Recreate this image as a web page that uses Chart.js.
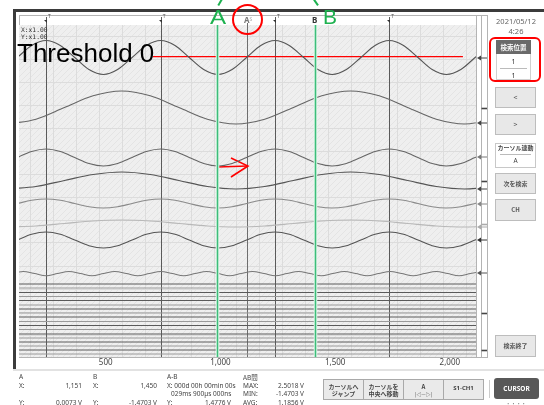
<!DOCTYPE html>
<html>
<head>
<meta charset="utf-8">
<script src="https://cdn.jsdelivr.net/npm/chart.js@4.4.1/dist/chart.umd.min.js"></script>
<style>
body{margin:0;width:544px;height:405px;overflow:hidden;background:#fff;position:relative;font-family:"Noto Sans","Noto Sans CJK JP",sans-serif;color:#444}
div{position:absolute;box-sizing:border-box}
.t{font-size:6.5px;line-height:8px;white-space:nowrap}
.r{text-align:right}
.btn{background:#e8e8e8;border:1px solid #bdbdbd;font-size:7px;font-weight:bold;color:#555;text-align:center;font-family:"Noto Sans CJK JP",sans-serif}
.cell{top:379px;height:21px;width:41px;background:#eaeaea;border:1px solid #a9a9a9;font-size:6px;line-height:7.5px;font-weight:bold;color:#444;text-align:center;padding-top:2.5px;font-family:"Noto Sans CJK JP",sans-serif}
.tg{top:13px;font-size:5px;line-height:6px;color:#555}
canvas{position:absolute;left:0;top:0}
</style>
</head>
<body>
<div style="left:13px;top:9px;width:531px;height:3px;background:#3b3b3b"></div>
<div style="left:13px;top:9px;width:3px;height:360px;background:#3b3b3b"></div>
<div style="left:19px;top:15px;width:469px;height:343px;border:1px solid #b4b4b4;background:#fff"></div>
<div style="left:476px;top:15px;width:1px;height:343px;background:#b4b4b4"></div>
<div style="left:481px;top:15px;width:1px;height:343px;background:#b4b4b4"></div>

<canvas id="scope" width="544" height="405"></canvas>

<div style="left:21px;top:27px;font-family:'DejaVu Sans Mono',monospace;font-size:6.3px;line-height:6.5px;color:#333">X:x1.00<br>Y:x1.00</div>

<!-- right panel -->
<div class="t" style="left:490px;width:52px;top:17px;text-align:center;font-size:7.5px;color:#666">2021/05/12</div>
<div class="t" style="left:490px;width:52px;top:27px;text-align:center;font-size:7.5px;color:#666">4:26</div>
<div style="left:496px;top:40px;width:35px;height:14px;background:#6a6a6a;color:#fff;font-size:6.5px;font-weight:bold;text-align:center;line-height:14px;font-family:'Noto Sans CJK JP'">検索位置</div>
<div style="left:496px;top:54px;width:35px;height:26px;background:#fff;border:1px solid #d0d0d0;border-top:none"></div>
<div style="left:500px;top:68px;width:27px;height:1px;background:#bbb"></div>
<div class="t" style="left:496px;width:35px;top:58px;text-align:center;font-size:7px;color:#333">1</div>
<div class="t" style="left:496px;width:35px;top:72px;text-align:center;font-size:7px;color:#333">1</div>
<div style="left:489px;top:37px;width:52px;height:45px;border:2px solid #f00;border-radius:6px"></div>

<div class="btn" style="left:495px;top:87px;width:41px;height:21px;line-height:19px;font-weight:normal">&lt;</div>
<div class="btn" style="left:495px;top:114px;width:41px;height:21px;line-height:19px;font-weight:normal">&gt;</div>
<div style="left:495px;top:143px;width:41px;height:25px;background:#fff;border:1px solid #c8c8c8"></div>
<div class="t" style="left:495px;width:41px;top:144px;text-align:center;font-size:6px;font-weight:bold;color:#444;font-family:'Noto Sans CJK JP'">カーソル連動</div>
<div style="left:500px;top:154px;width:31px;height:1px;background:#bbb"></div>
<div class="t" style="left:495px;width:41px;top:157px;text-align:center;font-size:6.5px;color:#444">A</div>
<div class="btn" style="left:495px;top:173px;width:41px;height:21px;line-height:19px;font-size:6px">次を検索</div>
<div class="btn" style="left:495px;top:199px;width:41px;height:22px;line-height:20px;font-size:6px">CH</div>
<div class="btn" style="left:495px;top:335px;width:41px;height:22px;line-height:20px;font-size:6px">検索終了</div>

<!-- bottom panel -->
<div style="left:13px;top:369px;width:531px;height:2px;background:#e2e2e2"></div>
<div class="t" style="left:19px;top:373px">A</div>
<div class="t" style="left:19px;top:382px">X:</div>
<div class="t r" style="left:40px;width:42px;top:382px">1,151</div>
<div class="t" style="left:19px;top:399px">Y:</div>
<div class="t r" style="left:30px;width:52px;top:399px">0.0073 V</div>
<div class="t" style="left:93px;top:373px">B</div>
<div class="t" style="left:93px;top:382px">X:</div>
<div class="t r" style="left:115px;width:42px;top:382px">1,450</div>
<div class="t" style="left:93px;top:399px">Y:</div>
<div class="t r" style="left:105px;width:52px;top:399px">-1.4703 V</div>
<div class="t" style="left:167px;top:373px">A-B</div>
<div class="t" style="left:167px;top:382px">X: 000d 00h 00min 00s</div>
<div class="t r" style="left:171px;width:60px;top:390px">029ms 900µs 000ns</div>
<div class="t" style="left:167px;top:399px">Y:</div>
<div class="t r" style="left:179px;width:52px;top:399px">1.4776 V</div>
<div class="t" style="left:243px;top:373px;font-family:'Noto Sans CJK JP'">AB間</div>
<div class="t" style="left:243px;top:382px">MAX:</div>
<div class="t" style="left:243px;top:390px">MIN:</div>
<div class="t" style="left:243px;top:399px">AVG:</div>
<div class="t r" style="left:252px;width:52px;top:382px">2.5018 V</div>
<div class="t r" style="left:252px;width:52px;top:390px">-1.4703 V</div>
<div class="t r" style="left:252px;width:52px;top:399px">1.1856 V</div>

<div class="cell" style="left:323px">カーソルへ<br>ジャンプ</div>
<div class="cell" style="left:363px">カーソルを<br>中央へ移動</div>
<div class="cell" style="left:403px">A<br><span style="font-weight:normal;font-size:5px">|◁—▷|</span></div>
<div class="cell" style="left:443px;line-height:15px;padding-top:1px;font-family:'Noto Sans'">S1-CH1</div>
<div style="left:489px;top:380px;width:1px;height:18px;background:#ccc"></div>
<div style="left:494px;top:378px;width:45px;height:21px;background:#585858;border-radius:3px;color:#fff;font-size:6.5px;font-weight:bold;text-align:center;line-height:21px">CURSOR</div>
<div class="t" style="left:494px;width:45px;top:400px;text-align:center;font-size:5px;color:#888;letter-spacing:1px">• • • •</div>

<!-- annotations -->
<div style="left:17px;top:40px;font-family:'Liberation Sans',Arial,sans-serif;font-size:26px;line-height:26px;color:#000;white-space:nowrap">Threshold 0</div>
<div style="left:210px;top:6px;font-family:'Liberation Sans',Arial,sans-serif;font-size:21px;line-height:21px;color:#1db14f;transform:scaleX(1.15);transform-origin:left top">A</div>
<div style="left:323px;top:6px;font-family:'Liberation Sans',Arial,sans-serif;font-size:21px;line-height:21px;color:#1db14f">B</div>
<div style="left:232px;top:4px;width:31px;height:31px;border:2px solid #f00;border-radius:50%"></div>
<div style="left:219px;top:-1px;width:2px;height:7px;background:#1db14f;transform:rotate(30deg)"></div>
<div style="left:315px;top:-1px;width:2px;height:7px;background:#1db14f;transform:rotate(-35deg)"></div>

<script>
// x-axis tick labels and grid
const xTickValues = [500, 1000, 1500, 2000];
const gridX = [172, 272, 372, 472, 572, 672, 772, 872, 972, 1072, 1172, 1272, 1372, 1472, 1572, 1672, 1772, 1872, 1972, 2072];
const gridY = [2.2, 4.5, 6.8, 9.1, 11.4, 13.7, 16.0, 18.3, 20.6, 22.9, 25.2, 27.5, 29.8, 32.1];

// sample positions
const fastX = [115, 177, 240, 302, 365, 427, 490, 552, 615, 677, 740, 802, 864, 927, 989, 1051, 1114,
  1176, 1238, 1300, 1363, 1425, 1487, 1549, 1612, 1674, 1736, 1798, 1861, 1923, 1985, 2048, 2110, 2172];
const slowX = [71, 196, 320, 445, 570, 694, 819, 943, 1068, 1193, 1318, 1442, 1567, 1692, 1816, 1941, 2065, 2190];
const rippleX = [90, 140, 190, 240, 290, 340, 390, 440, 490, 540, 590, 640, 690, 740, 790, 840, 890, 940, 990, 1040,
  1090, 1140, 1190, 1240, 1290, 1340, 1390, 1440, 1490, 1540, 1590, 1640, 1690, 1740, 1790, 1840, 1890, 1940, 1990,
  2040, 2090, 2140];

// analog channels
const ch1 = [29.95, 31.15, 31.65, 31.15, 29.95, 28.75, 28.25, 28.75, 29.95, 31.15, 31.65, 31.15, 29.95, 28.75, 28.25, 28.75,
  29.95, 31.15, 31.65, 31.15, 29.95, 28.75, 28.25, 28.75, 29.95, 31.15, 31.65, 31.15, 29.95, 28.75, 28.25, 28.75, 29.95, 31.15];
const ch2 = [23.3, 23.78, 24.95, 26.12, 26.6, 26.12, 24.95, 23.78, 23.3, 23.78, 24.95, 26.12, 26.6, 26.12, 24.95, 23.78, 23.3, 23.78];
const ch3 = [19.95, 20.55, 20.8, 20.55, 19.95, 19.35, 19.1, 19.35, 19.95, 20.55, 20.8, 20.55, 19.95, 19.35, 19.1, 19.35,
  19.95, 20.55, 20.8, 20.55, 19.95, 19.35, 19.1, 19.35, 19.95, 20.55, 20.8, 20.55, 19.95, 19.35, 19.1, 19.35, 19.95, 20.55];
const ch4 = [16.8, 17.05, 17.65, 18.25, 18.5, 18.25, 17.65, 17.05, 16.8, 17.05, 17.65, 18.25, 18.5, 18.25, 17.65, 17.05, 16.8, 17.05];
const ch5 = [15.35, 15.67, 15.8, 15.67, 15.35, 15.03, 14.9, 15.03, 15.35, 15.67, 15.8, 15.67, 15.35, 15.03, 14.9, 15.03,
  15.35, 15.67, 15.8, 15.67, 15.35, 15.03, 14.9, 15.03, 15.35, 15.67, 15.8, 15.67, 15.35, 15.03, 14.9, 15.03, 15.35, 15.67];
const ch6 = [13.0, 13.1, 13.35, 13.6, 13.7, 13.6, 13.35, 13.1, 13.0, 13.1, 13.35, 13.6, 13.7, 13.6, 13.35, 13.1, 13.0, 13.1];
const ch7 = [11.7, 12.27, 12.5, 12.27, 11.7, 11.13, 10.9, 11.13, 11.7, 12.27, 12.5, 12.27, 11.7, 11.13, 10.9, 11.13,
  11.7, 12.27, 12.5, 12.27, 11.7, 11.13, 10.9, 11.13, 11.7, 12.27, 12.5, 12.27, 11.7, 11.13, 10.9, 11.13, 11.7, 12.27];
const ch8 = [8.35, 8.55, 8.35, 8.13, 8.35, 8.55, 8.35, 8.13, 8.35, 8.55, 8.35, 8.13, 8.35, 8.55, 8.35, 8.13, 8.35, 8.55,
  8.35, 8.13, 8.35, 8.55, 8.35, 8.13, 8.35, 8.55, 8.35, 8.13, 8.35, 8.55, 8.35, 8.13, 8.35, 8.55, 8.35, 8.13, 8.35, 8.55,
  8.35, 8.13, 8.35, 8.55];

// digital channels (flat levels)
const digitalLevels = [7.3, 6.9, 6.45, 6.05, 5.65, 5.2, 4.8, 4.4, 4.0, 3.55, 3.15, 2.75, 2.3, 1.9, 1.5, 1.1, 0.7, 0.3];

// markers
const triggerX = [240, 740, 1238, 1736];
const cursorAX = 1116;
const greenAX = 985;
const greenBX = 1412;
const thresholdX = [706, 2057];
const thresholdY = [30.03, 30.03];
const arrowShaftX = [985, 1120];
const arrowShaftY = [19.0, 19.1];
const arrowHeadX = [1046, 1120, 1046];
const arrowHeadY = [19.9, 19.1, 18.0];
const endLevels = [29.9, 23.4, 20.0, 16.8, 15.3, 13.0, 11.7, 8.4];
const endColors = ['#444', '#444', '#777', '#444', '#888', '#aaa', '#333', '#555'];
const offsetLevels = [24.9, 17.6, 13.3, 4.4, 0.7];
const offsetColors = ['#444', '#444', '#aaa', '#444', '#444'];

function trace(xs, ys, color, width) {
  return {
    data: xs.map((x, i) => ({ x: x, y: ys[i] })),
    borderColor: color, borderWidth: width, pointRadius: 0,
    cubicInterpolationMode: 'monotone', fill: false,
    xAxisID: 'x', yAxisID: 'y'
  };
}

const datasets = [
  trace(fastX, ch1, '#555', 1.1),
  trace(slowX, ch2, '#666', 1.1),
  trace(fastX, ch3, '#666', 1.1),
  trace(slowX, ch4, '#555', 1.1),
  trace(fastX, ch5, '#8a8a8a', 1.1),
  trace(slowX, ch6, '#b8b8b8', 1.1),
  trace(fastX, ch7, '#555', 1.1),
  trace(rippleX, ch8, '#777', 1.1)
];
digitalLevels.forEach((lv, i) => {
  datasets.push(trace([122, 2114], [lv, lv], i % 2 ? '#9a9a9a' : '#5a5a5a', 1));
});
const red1 = trace(thresholdX, thresholdY, '#ff0000', 1.3);
red1.cubicInterpolationMode = 'default';
datasets.push(red1);
const red2 = trace(arrowShaftX, arrowShaftY, '#ff0000', 1.6);
red2.cubicInterpolationMode = 'default';
datasets.push(red2);
const red3 = trace(arrowHeadX, arrowHeadY, '#ff0000', 1.6);
red3.cubicInterpolationMode = 'default';
datasets.push(red3);

const hatch = (function () {
  const pc = document.createElement('canvas');
  pc.width = 6; pc.height = 6;
  const p = pc.getContext('2d');
  p.fillStyle = '#efefef';
  p.fillRect(0, 0, 6, 6);
  p.strokeStyle = '#e4e4e4';
  p.lineWidth = 1;
  p.beginPath();
  p.moveTo(0, 6); p.lineTo(6, 0);
  p.moveTo(-1, 1); p.lineTo(1, -1);
  p.moveTo(5, 7); p.lineTo(7, 5);
  p.stroke();
  return pc;
})();

const scopePlugin = {
  id: 'scope',
  beforeDraw(chart) {
    const a = chart.chartArea, ctx = chart.ctx;
    ctx.save();
    ctx.fillStyle = ctx.createPattern(hatch, 'repeat');
    ctx.fillRect(a.left, a.top, a.right - a.left, a.bottom - a.top);
    ctx.restore();
  },
  beforeDatasetsDraw(chart) {
    const a = chart.chartArea, ctx = chart.ctx, xs = chart.scales.x;
    ctx.save();
    ctx.strokeStyle = '#5a5a5a';
    ctx.fillStyle = '#333';
    ctx.lineWidth = 1;
    triggerX.forEach(v => {
      const px = Math.round(xs.getPixelForValue(v)) + 0.5;
      ctx.beginPath(); ctx.moveTo(px, 17); ctx.lineTo(px, a.bottom); ctx.stroke();
      ctx.beginPath(); ctx.moveTo(px - 2.5, 20); ctx.lineTo(px + 0.5, 20); ctx.lineTo(px + 0.5, 23); ctx.fill();
    });
    const pa = Math.round(xs.getPixelForValue(cursorAX)) + 0.5;
    ctx.strokeStyle = '#6e6e6e';
    ctx.beginPath(); ctx.moveTo(pa, 23); ctx.lineTo(pa, a.bottom); ctx.stroke();
    ctx.restore();
  },
  afterDatasetsDraw(chart) {
    const a = chart.chartArea, ctx = chart.ctx, xs = chart.scales.x, ys = chart.scales.y;
    ctx.save();
    [greenAX, greenBX].forEach(v => {
      const px = Math.round(xs.getPixelForValue(v)) + 0.5;
      ctx.strokeStyle = '#eafaf0'; ctx.lineWidth = 3.5;
      ctx.beginPath(); ctx.moveTo(px, a.top); ctx.lineTo(px, a.bottom); ctx.stroke();
      ctx.strokeStyle = '#3dbd7a'; ctx.lineWidth = 1.6;
      ctx.beginPath(); ctx.moveTo(px, a.top); ctx.lineTo(px, a.bottom); ctx.stroke();
    });
    endLevels.forEach((lv, i) => {
      const py = ys.getPixelForValue(lv);
      ctx.fillStyle = endColors[i]; ctx.strokeStyle = endColors[i]; ctx.lineWidth = 1;
      ctx.beginPath(); ctx.moveTo(a.right + 1, py); ctx.lineTo(a.right + 5, py - 2.5); ctx.lineTo(a.right + 5, py + 2.5); ctx.fill();
      ctx.beginPath(); ctx.moveTo(a.right + 4, py); ctx.lineTo(a.right + 11, py); ctx.stroke();
    });
    offsetLevels.forEach((lv, i) => {
      const py = Math.round(ys.getPixelForValue(lv)) + 0.5;
      ctx.strokeStyle = offsetColors[i]; ctx.lineWidth = 1.6;
      ctx.beginPath(); ctx.moveTo(a.right + 5.5, py); ctx.lineTo(a.right + 11, py); ctx.stroke();
    });
    ctx.restore();
  }
};

const chart = new Chart(document.getElementById('scope').getContext('2d'), {
  type: 'line',
  data: { datasets: datasets },
  plugins: [scopePlugin],
  options: {
    responsive: false,
    animation: false,
    events: [],
    layout: { padding: { left: 19, right: 68, top: 25, bottom: 34 } },
    plugins: { legend: { display: false }, tooltip: { enabled: false } },
    scales: {
      x: {
        type: 'linear', min: 122, max: 2114, position: 'bottom',
        grid: { display: false, drawTicks: false }, border: { display: false },
        afterBuildTicks: ax => { ax.ticks = xTickValues.map(v => ({ value: v })); },
        afterFit: s => { s.height = 14; },
        ticks: {
          padding: 1, color: '#444', maxRotation: 0, autoSkip: false,
          font: { size: 8, family: 'Noto Sans' },
          callback: v => v.toLocaleString('en-US')
        }
      },
      xg: {
        type: 'linear', min: 122, max: 2114, position: 'bottom',
        grid: { color: '#dcdcdc', drawTicks: false }, border: { display: false },
        ticks: { display: false },
        afterBuildTicks: ax => { ax.ticks = gridX.map(v => ({ value: v })); },
        afterFit: s => { s.height = 0; }
      },
      y: { type: 'linear', min: 0, max: 33.2, display: false },
      yg: {
        type: 'linear', min: 0, max: 33.2, position: 'left',
        grid: { color: '#dcdcdc', drawTicks: false }, border: { display: false },
        ticks: { display: false },
        afterBuildTicks: ax => { ax.ticks = gridY.map(v => ({ value: v })); },
        afterFit: s => { s.width = 0; }
      }
    }
  }
});

// labels on the top strip, placed through the x scale
const xs = chart.scales.x;
triggerX.forEach(v => {
  const d = document.createElement('div');
  d.className = 'tg';
  d.textContent = 'T';
  d.style.left = (xs.getPixelForValue(v) + 2) + 'px';
  document.body.appendChild(d);
});
const la = document.createElement('div');
la.className = 't';
la.style.cssText = 'top:15px;font-size:8px;line-height:9px;color:#777;font-weight:bold';
la.innerHTML = 'A<span style="font-size:5px;vertical-align:top;font-weight:normal;color:#aaa">S</span>';
la.style.left = (xs.getPixelForValue(cursorAX) - 3) + 'px';
document.body.appendChild(la);
const lb = document.createElement('div');
lb.className = 't';
lb.style.cssText = 'top:15px;font-size:8px;line-height:9px;color:#333;font-weight:bold';
lb.textContent = 'B';
lb.style.left = (xs.getPixelForValue(greenBX) - 3) + 'px';
document.body.appendChild(lb);
</script>
</body>
</html>
